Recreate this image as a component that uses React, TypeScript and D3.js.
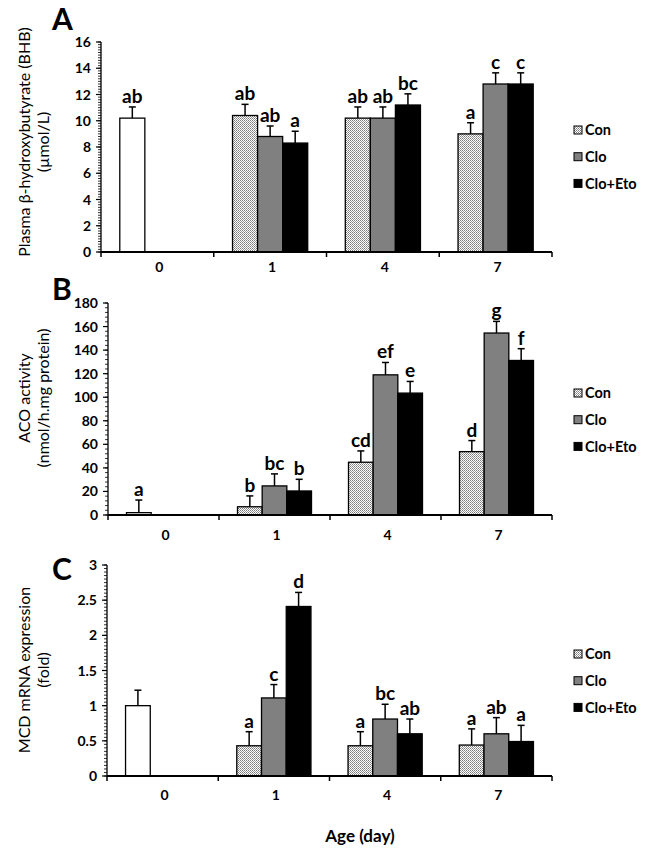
import React from "react";
import * as d3 from "d3";

const days = ["0", "1", "4", "7"];
const seriesNames = ["Con", "Clo", "Clo+Eto"];

// Panel A: plasma BHB (µmol/L)
const bhbMean = [[10.2, null, null], [10.4, 8.8, 8.3], [10.2, 10.2, 11.2], [9.0, 12.8, 12.8]];
const bhbErr = [[0.85, null, null], [0.85, 0.8, 0.9], [0.85, 0.85, 0.85], [0.85, 0.85, 0.85]];
const bhbLetters = [["ab", "", ""], ["ab", "ab", "a"], ["ab", "ab", "bc"], ["a", "c", "c"]];
const bhbTicks = [0, 2, 4, 6, 8, 10, 12, 14, 16];

// Panel B: ACO activity
const acoMean = [[2, null, null], [7, 24.7, 20.4], [44.8, 119, 103.5], [53.8, 154.5, 131.2]];
const acoErr = [[10.7, null, null], [9.2, 10.2, 9.9], [9.6, 10.5, 9.9], [9.4, 9.9, 10]];
const acoLetters = [["a", "", ""], ["b", "bc", "b"], ["cd", "ef", "e"], ["d", "g", "f"]];
const acoTicks = [0, 20, 40, 60, 80, 100, 120, 140, 160, 180];

// Panel C: MCD mRNA expression (fold)
const mcdMean = [[1.0, null, null], [0.43, 1.11, 2.41], [0.43, 0.81, 0.6], [0.44, 0.6, 0.49]];
const mcdErr = [[0.22, null, null], [0.2, 0.19, 0.2], [0.2, 0.21, 0.21], [0.23, 0.23, 0.23]];
const mcdLetters = [["", "", ""], ["a", "c", "d"], ["a", "bc", "ab"], ["a", "ab", "a"]];
const mcdTicks = [0, 0.5, 1, 1.5, 2, 2.5, 3];

const FONT = "Lato, 'Open Sans', sans-serif";
const fills = ["url(#dots)", "#808080", "#000000"];

type PanelProps = {
  mean: (number | null)[][];
  err: (number | null)[][];
  letters: string[][];
  ticks: number[];
  minorStep: number;
  x0: number;
  x1: number;
  yTop: number;
  yBottom: number;
  title: string[];
  titleCy: number;
  panelLetter: string;
  letterY: number;
  legendY: number;
  catLabelY: number;
};

function Panel(p: PanelProps) {
  const ymax = p.ticks[p.ticks.length - 1];
  const y = d3.scaleLinear().domain([0, ymax]).range([p.yBottom, p.yTop]);
  const x = d3.scaleBand<string>().domain(days).range([p.x0, p.x1]).padding(0);
  const xi = d3
    .scaleBand<string>()
    .domain(seriesNames)
    .range([0, x.bandwidth()])
    .paddingInner(0)
    .paddingOuter(0.75);
  const minor = d3.range(0, ymax + p.minorStep / 2, p.minorStep);
  const bw = xi.bandwidth();

  return (
    <g>
      <text x={52} y={p.letterY} fontFamily={FONT} fontWeight={700} fontSize={30}>
        {p.panelLetter}
      </text>
      {p.title.map((t, i) => (
        <text
          key={i}
          transform={`translate(${30 + i * 19},${p.titleCy}) rotate(-90)`}
          textAnchor="middle"
          fontFamily={FONT}
          fontSize={16}
        >
          {t}
        </text>
      ))}
      {minor.map((v, i) => (
        <line key={"m" + i} x1={p.x0 - 3} x2={p.x0} y1={y(v)} y2={y(v)} stroke="#000" strokeWidth={0.8} />
      ))}
      {p.ticks.map((v) => (
        <g key={"t" + v}>
          <line x1={p.x0 - 5} x2={p.x0} y1={y(v)} y2={y(v)} stroke="#000" strokeWidth={1.2} />
          <text
            x={p.x0 - 10}
            y={y(v)}
            dy="0.36em"
            textAnchor="end"
            fontFamily={FONT}
            fontWeight={700}
            fontSize={14}
          >
            {String(v)}
          </text>
        </g>
      ))}
      {days.map((d, di) =>
        seriesNames.map((s, si) => {
          const v = p.mean[di][si];
          if (v === null || v === undefined) return null;
          const e = p.err[di][si] ?? 0;
          const bx = (x(d) as number) + (xi(s) as number);
          const cx = bx + bw / 2;
          const fill = di === 0 ? "#ffffff" : fills[si];
          const top = y(v + e);
          return (
            <g key={d + s}>
              <line x1={cx} x2={cx} y1={y(v)} y2={top} stroke="#000" strokeWidth={1.5} />
              <line x1={cx - 3.5} x2={cx + 3.5} y1={top} y2={top} stroke="#000" strokeWidth={1.5} />
              <rect
                x={bx}
                y={y(v)}
                width={bw}
                height={p.yBottom - y(v)}
                fill={fill}
                stroke="#000"
                strokeWidth={1.3}
              />
              {p.letters[di][si] ? (
                <text
                  x={cx}
                  y={top - 4}
                  textAnchor="middle"
                  fontFamily={FONT}
                  fontWeight={700}
                  fontSize={19}
                >
                  {p.letters[di][si]}
                </text>
              ) : null}
            </g>
          );
        })
      )}
      <line x1={p.x0} x2={p.x0} y1={p.yTop} y2={p.yBottom} stroke="#000" strokeWidth={1.3} />
      <line x1={p.x0} x2={p.x1} y1={p.yBottom} y2={p.yBottom} stroke="#000" strokeWidth={2} />
      {[...days.map((d) => x(d) as number), p.x1].map((v, i) => (
        <line key={"xt" + i} x1={v} x2={v} y1={p.yBottom} y2={p.yBottom + 5} stroke="#000" strokeWidth={1.5} />
      ))}
      {days.map((d) => (
        <text
          key={"xl" + d}
          x={(x(d) as number) + x.bandwidth() / 2 + 2}
          y={p.catLabelY}
          textAnchor="middle"
          fontFamily={FONT}
          fontWeight={700}
          fontSize={14}
        >
          {d}
        </text>
      ))}
      {seriesNames.map((s, i) => (
        <g key={"lg" + s} transform={`translate(574,${p.legendY + i * 26.7})`}>
          <rect x={0} y={-4} width={8} height={8} fill={fills[i]} stroke="#000" strokeWidth={1} />
          <text x={11} y={0} dy="0.36em" fontFamily={FONT} fontWeight={700} fontSize={14.5}>
            {s}
          </text>
        </g>
      ))}
    </g>
  );
}

export default function App() {
  return (
    <svg
      width={650}
      height={857}
      viewBox="0 0 650 857"
      style={{ position: "absolute", left: 0, top: 0, background: "#fff" }}
    >
      <defs>
        <pattern id="dots" width={2} height={2} patternUnits="userSpaceOnUse">
          <rect width={2} height={2} fill="#ffffff" />
          <rect width={1} height={1} fill="#7a7a7a" />
          <rect x={1} y={1} width={1} height={1} fill="#9a9a9a" />
        </pattern>
      </defs>
      <rect width={650} height={857} fill="#fff" />
      <Panel
        mean={bhbMean}
        err={bhbErr}
        letters={bhbLetters}
        ticks={bhbTicks}
        minorStep={0.2}
        x0={101}
        x1={552}
        yTop={42}
        yBottom={252}
        title={["Plasma β-hydroxybutyrate (BHB)", "(µmol/L)"]}
        titleCy={142}
        panelLetter="A"
        letterY={30}
        legendY={130}
        catLabelY={272}
      />
      <Panel
        mean={acoMean}
        err={acoErr}
        letters={acoLetters}
        ticks={acoTicks}
        minorStep={4}
        x0={108}
        x1={552}
        yTop={303}
        yBottom={515}
        title={["ACO activity", "(nmol/h.mg protein)"]}
        titleCy={398}
        panelLetter="B"
        letterY={300}
        legendY={393}
        catLabelY={540}
      />
      <Panel
        mean={mcdMean}
        err={mcdErr}
        letters={mcdLetters}
        ticks={mcdTicks}
        minorStep={0.05}
        x0={107}
        x1={552}
        yTop={565}
        yBottom={776}
        title={["MCD mRNA expression", "(fold)"]}
        titleCy={670}
        panelLetter="C"
        letterY={580}
        legendY={654}
        catLabelY={800}
      />
      <text x={360} y={842} textAnchor="middle" fontFamily={FONT} fontWeight={700} fontSize={17}>
        Age (day)
      </text>
    </svg>
  );
}
